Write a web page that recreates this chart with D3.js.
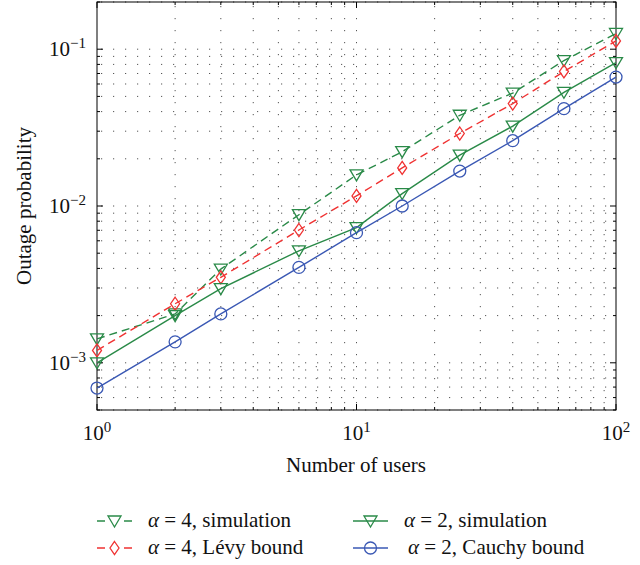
<!DOCTYPE html>
<html>
<head>
<meta charset="utf-8">
<script src="https://cdn.jsdelivr.net/npm/d3@7"></script>
<style>
  body { margin: 0; background: #fff; }
  #chart { width: 640px; height: 565px; }
  text { font-family: "Liberation Serif", "Times New Roman", serif; fill: #111; }
</style>
</head>
<body>
<div id="chart"></div>
<script>
// values
const users = [1, 2, 3, 6, 10, 15, 25, 40, 63, 100];
const sim4 = [1.42e-3, 2.05e-3, 3.96e-3, 8.8e-3, 1.58e-2, 2.22e-2, 3.79e-2, 5.25e-2, 8.46e-2, 0.126];
const levy4 = [1.2e-3, 2.38e-3, 3.51e-3, 7.03e-3, 1.16e-2, 1.75e-2, 2.9e-2, 4.5e-2, 7.21e-2, 0.113];
const sim2 = [1.0e-3, 2.0e-3, 2.97e-3, 5.18e-3, 7.28e-3, 1.2e-2, 2.11e-2, 3.23e-2, 5.31e-2, 8.22e-2];
const cauchy2 = [6.9e-4, 1.36e-3, 2.05e-3, 4.06e-3, 6.76e-3, 1.0e-2, 1.67e-2, 2.61e-2, 4.18e-2, 6.64e-2];

const xTicks = [1, 2, 3, 4, 5, 6, 7, 8, 9, 10, 20, 30, 40, 50, 60, 70, 80, 90, 100];
const yTicks = [5e-4, 6e-4, 7e-4, 8e-4, 9e-4, 1e-3, 2e-3, 3e-3, 4e-3, 5e-3, 6e-3, 7e-3, 8e-3, 9e-3,
  1e-2, 2e-2, 3e-2, 4e-2, 5e-2, 6e-2, 7e-2, 8e-2, 9e-2, 0.1, 0.2];
const xMajor = [[1, "0"], [10, "1"], [100, "2"]];
const yMajor = [[1e-1, "\u22121"], [1e-2, "\u22122"], [1e-3, "\u22123"]];

const series = [
  { name: "sim4", values: sim4, color: "#2a8a48", dash: "8,5", marker: "tri" },
  { name: "levy4", values: levy4, color: "#f03232", dash: "8,5", marker: "dia" },
  { name: "sim2", values: sim2, color: "#2a8a48", dash: null, marker: "tri" },
  { name: "cauchy2", values: cauchy2, color: "#3a58b4", dash: null, marker: "circ" }
];

const legendItems = [
  { s: 0, label: "4, simulation", col: 0, row: 0 },
  { s: 1, label: "4, L\u00e9vy bound", col: 0, row: 1 },
  { s: 2, label: "2, simulation", col: 1, row: 0 },
  { s: 3, label: "2, Cauchy bound", col: 1, row: 1 }
];

const width = 640, height = 565;
const svg = d3.select("#chart").append("svg")
  .attr("width", width).attr("height", height);

const mLeft = 97, mRight = 616, mTop = 2, mBottom = 410;
const x = d3.scaleLog().domain([1, 100]).range([mLeft, mRight]);
const y = d3.scaleLog().domain([5e-4, 0.2]).range([mBottom, mTop]);

// dotted grid
const grid = svg.append("g")
  .attr("stroke", "#555").attr("stroke-width", 1).attr("stroke-dasharray", "1.2,10.8");
grid.selectAll("line.gy").data(yTicks).join("line")
  .attr("x1", mLeft + 4).attr("x2", mRight)
  .attr("y1", d => y(d)).attr("y2", d => y(d));
grid.selectAll("line.gx").data(xTicks.slice(1, -1)).join("line")
  .attr("x1", d => x(d)).attr("x2", d => x(d))
  .attr("y1", mTop + 4).attr("y2", mBottom);

// box + ticks
const ax = svg.append("g").attr("stroke", "#000").attr("stroke-width", 1);
ax.append("rect").attr("x", mLeft).attr("y", mTop)
  .attr("width", mRight - mLeft).attr("height", mBottom - mTop).attr("fill", "none");
const isMajor = v => Math.abs(Math.log10(v) - Math.round(Math.log10(v))) < 1e-9;
xTicks.forEach(v => {
  const len = isMajor(v) ? 6 : 3;
  ax.append("line").attr("x1", x(v)).attr("x2", x(v)).attr("y1", mBottom).attr("y2", mBottom - len);
  ax.append("line").attr("x1", x(v)).attr("x2", x(v)).attr("y1", mTop).attr("y2", mTop + len);
});
yTicks.forEach(v => {
  const len = isMajor(v) ? 6 : 3;
  ax.append("line").attr("y1", y(v)).attr("y2", y(v)).attr("x1", mLeft).attr("x2", mLeft + len);
  ax.append("line").attr("y1", y(v)).attr("y2", y(v)).attr("x1", mRight).attr("x2", mRight - len);
});

// tick labels
xMajor.forEach(([v, e]) => {
  const t = svg.append("text").attr("x", x(v)).attr("y", 440)
    .attr("text-anchor", "middle").attr("font-size", 21).text("10");
  t.append("tspan").attr("font-size", 15).attr("dy", -8).text(e);
});
yMajor.forEach(([v, e]) => {
  const t = svg.append("text").attr("x", 49).attr("y", y(v) + 7)
    .attr("font-size", 21).text("10");
  t.append("tspan").attr("font-size", 15).attr("dy", -8).text(e);
});

// axis titles
svg.append("text").attr("x", 356).attr("y", 472).attr("text-anchor", "middle")
  .attr("font-size", 21).text("Number of users");
svg.append("text").attr("transform", "translate(31,206) rotate(-90)")
  .attr("text-anchor", "middle").attr("font-size", 21).text("Outage probability");

// markers
function drawMarker(g, type, cx, cy, color) {
  if (type === "circ") {
    g.append("circle").attr("cx", cx).attr("cy", cy).attr("r", 6)
      .attr("fill", "none").attr("stroke", color).attr("stroke-width", 1.3);
  } else {
    const pts = type === "tri"
      ? [[-6.5, -5], [6.5, -5], [0, 6]]
      : [[0, -6.5], [4.5, 0], [0, 6.5], [-4.5, 0]];
    g.append("path")
      .attr("d", "M" + pts.map(p => (cx + p[0]) + "," + (cy + p[1])).join("L") + "Z")
      .attr("fill", "none").attr("stroke", color).attr("stroke-width", 1.3);
  }
}

const line = d3.line().x(d => x(d[0])).y(d => y(d[1]));
series.forEach(s => {
  const pts = users.map((u, i) => [u, s.values[i]]);
  const g = svg.append("g");
  g.append("path").attr("d", line(pts)).attr("fill", "none")
    .attr("stroke", s.color).attr("stroke-width", 1.4)
    .attr("stroke-dasharray", s.dash);
  pts.forEach(p => drawMarker(g, s.marker, x(p[0]), y(p[1]), s.color));
});

// legend
const colX = [97, 353], textX = [148, 404], rowY = [521, 548];
legendItems.forEach(it => {
  const s = series[it.s];
  const g = svg.append("g");
  const x0 = colX[it.col], yy = rowY[it.row];
  g.append("line").attr("x1", x0).attr("x2", x0 + 35).attr("y1", yy).attr("y2", yy)
    .attr("stroke", s.color).attr("stroke-width", 1.4)
    .attr("stroke-dasharray", s.dash ? "8,19" : null);
  drawMarker(g, s.marker, x0 + 17.5, yy, s.color);
  const t = g.append("text").attr("x", textX[it.col] + (it.s === 3 ? 4 : 0)).attr("y", yy + 6)
    .attr("font-size", 21);
  t.append("tspan").attr("font-style", "italic").text("\u03b1");
  t.append("tspan").text(" = " + it.label);
});
</script>
</body>
</html>
